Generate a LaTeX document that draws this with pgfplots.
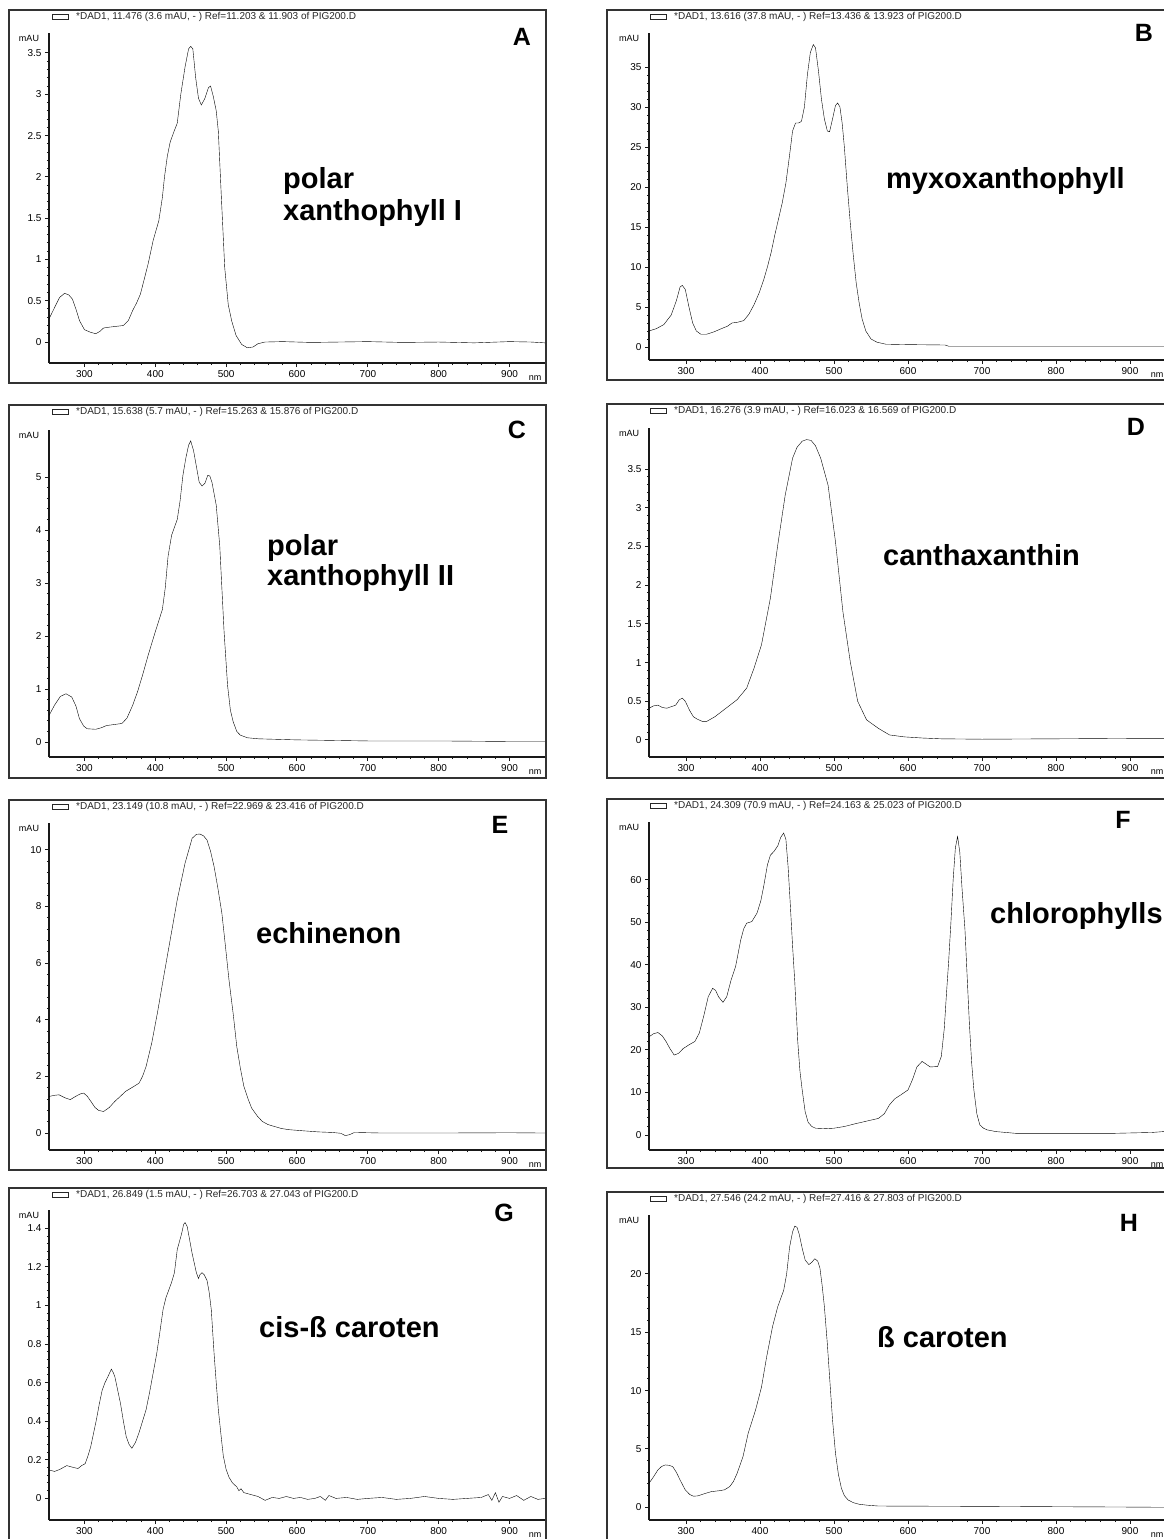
\documentclass[border=0pt]{standalone}
\usepackage{pgfplots}
\pgfplotsset{compat=1.18}
\usepackage{pgfplotstable}
\usepackage{fontspec}
\setmainfont{Liberation Sans}

% spectra (nm, mAU)
\pgfplotstableread{
nm mau
250 0.28
258 0.42
265 0.54
272 0.59
278 0.57
283 0.52
288 0.40
293 0.26
300 0.15
308 0.12
316 0.10
322 0.13
327 0.17
335 0.18
345 0.19
355 0.20
362 0.26
368 0.38
374 0.48
379 0.58
385 0.78
390 0.95
397 1.23
405 1.47
410 1.75
413 2.0
417 2.25
421 2.42
426 2.54
431 2.65
436 3.0
442 3.33
447 3.55
450 3.58
453 3.55
457 3.2
461 2.95
465 2.87
470 2.95
475 3.08
478 3.10
482 2.97
486 2.8
489 2.55
493 1.8
498 0.9
503 0.45
508 0.25
514 0.08
522 -0.03
530 -0.07
538 -0.06
545 -0.02
555 0.0
580 0.005
620 -0.005
660 0.0
700 0.005
750 -0.005
800 0.0
850 -0.01
900 0.005
930 0.0
950 -0.01
}\dataA

\pgfplotstableread{
nm mau
250 2.0
260 2.3
270 2.8
280 4.0
287 5.8
292 7.5
295 7.7
299 7.2
304 5.0
309 3.0
314 2.0
320 1.6
328 1.6
338 1.9
348 2.3
356 2.6
362 3.0
370 3.1
378 3.3
385 4.1
392 5.3
399 6.8
405 8.4
410 10.0
415 11.8
420 14.0
425 16.0
430 18.0
435 20.5
440 24.0
444 27.0
448 28.0
452 28.0
456 28.2
460 30.0
464 34.0
468 36.8
472 37.8
475 37.4
479 34.5
483 31.0
487 28.5
491 27.0
494 26.9
498 28.5
502 30.2
505 30.5
508 30.0
511 28.0
514 25.0
518 20.0
522 15.5
526 11.5
530 8.0
534 5.5
538 3.5
543 2.0
550 1.0
558 0.6
570 0.35
600 0.3
650 0.25
655 0.1
700 0.1
800 0.1
950 0.1
}\dataB

\pgfplotstableread{
nm mau
250 0.5
258 0.7
266 0.86
274 0.91
282 0.85
288 0.68
293 0.44
299 0.30
304 0.25
316 0.24
324 0.27
331 0.31
342 0.33
353 0.35
360 0.45
368 0.69
375 0.95
382 1.26
390 1.64
400 2.08
410 2.5
414 2.9
418 3.5
423 3.9
427 4.05
431 4.2
435 4.55
439 5.03
443 5.35
447 5.6
450 5.68
454 5.5
458 5.2
462 4.9
466 4.83
470 4.88
474 5.03
477 5.02
480 4.9
486 4.47
491 3.7
497 2.1
502 1.07
506 0.6
510 0.38
515 0.2
520 0.13
530 0.08
546 0.06
600 0.04
700 0.02
800 0.02
900 0.01
950 0.01
}\dataC

\pgfplotstableread{
nm mau
250 0.41
256 0.44
262 0.45
268 0.42
274 0.41
280 0.43
286 0.45
291 0.52
295 0.54
299 0.5
305 0.38
310 0.3
315 0.27
322 0.24
328 0.24
339 0.3
354 0.41
369 0.52
382 0.67
392 0.93
402 1.23
414 1.83
424 2.52
434 3.16
444 3.64
450 3.78
457 3.86
463 3.88
469 3.87
475 3.80
482 3.64
492 3.29
502 2.56
512 1.66
522 1.01
532 0.5
544 0.26
560 0.15
575 0.065
595 0.04
620 0.025
645 0.015
700 0.01
800 0.015
900 0.02
950 0.02
}\dataD

\pgfplotstableread{
nm mau
250 1.29
257 1.33
264 1.35
272 1.25
280 1.18
288 1.3
294 1.38
299 1.41
304 1.3
309 1.12
315 0.9
320 0.8
327 0.76
335 0.9
343 1.12
350 1.28
358 1.47
368 1.62
377 1.76
382 2.0
387 2.35
395 3.18
403 4.24
411 5.4
421 6.82
431 8.24
442 9.53
452 10.41
458 10.55
463 10.56
468 10.5
473 10.35
478 9.95
483 9.41
488 8.7
494 7.76
499 6.6
504 5.41
510 4.2
515 3.06
520 2.3
525 1.65
531 1.2
536 0.88
544 0.6
551 0.41
559 0.3
567 0.24
578 0.16
588 0.12
608 0.08
630 0.04
650 0.02
662 -0.01
668 -0.09
674 -0.06
681 0.02
720 0.0
800 0.0
900 0.01
950 0.0
}\dataE

\pgfplotstableread{
nm mau
250 23.1
256 23.8
262 24.1
268 23.3
273 22
278 20.4
284 18.8
290 19.2
296 20.3
304 21.2
312 22
318 24
324 28
330 32.5
336 34.5
340 34
344 32.5
350 31.2
355 32.5
361 36.5
367 39.6
374 45.9
378 48.5
382 49.8
389 50.2
396 52.2
401 55
405 58.5
410 63.5
414 65.8
419 66.7
424 68
428 70
432 71.0
435 69.5
438 63
441 54
444 44.5
447 36
451 22
454 15
457 10.6
461 5.5
465 3.0
470 2.0
475 1.6
489 1.5
500 1.6
514 2.0
530 2.7
545 3.3
560 3.9
568 5
575 7.1
582 8.5
590 9.4
600 10.6
606 13
612 16
619 17.3
625 16.6
630 16.0
640 16.1
645 18.5
649 25
652 33.3
655 41
658 50
661 60
664 67.5
667 70.2
670 66.5
673 58
677 48.2
680 37
683 26
686 17
689 10.6
693 5
697 2.4
702 1.6
707 1.2
719 0.8
745 0.4
800 0.4
880 0.4
930 0.6
945 0.8
950 0.8
}\dataF

\pgfplotstableread{
nm mau
250 0.147
258 0.14
265 0.15
270 0.16
275 0.17
280 0.165
285 0.16
291 0.155
296 0.17
301 0.18
305 0.22
309 0.27
313 0.34
317 0.41
321 0.49
325 0.56
329 0.6
333 0.63
338 0.67
341 0.65
343 0.63
347 0.56
351 0.49
355 0.4
359 0.32
363 0.28
367 0.26
372 0.29
377 0.34
382 0.4
387 0.46
392 0.55
398 0.67
402 0.75
406 0.85
411 0.98
415 1.04
419 1.08
423 1.12
427 1.17
431 1.29
434 1.33
437 1.37
440 1.42
442 1.43
445 1.41
448 1.35
452 1.27
455 1.22
458 1.17
461 1.14
463 1.16
466 1.17
469 1.16
473 1.13
476 1.07
479 0.98
483 0.75
486 0.6
489 0.46
493 0.32
496 0.22
500 0.15
504 0.11
509 0.08
515 0.06
518 0.04
521 0.05
525 0.03
535 0.02
545 0.01
555 -0.01
565 0.005
575 0.0
585 0.01
595 0.0
605 0.005
615 -0.005
625 0.0
633 0.01
640 -0.01
645 0.015
655 0.0
670 0.005
685 -0.005
700 0.0
720 0.005
740 -0.005
760 0.0
780 0.01
800 0.0
820 -0.005
840 0.0
860 0.005
870 0.02
875 -0.01
880 0.03
885 -0.02
890 0.01
900 0.0
910 0.015
920 -0.01
930 0.01
940 -0.005
950 0.0
}\dataG

\pgfplotstableread{
nm mau
250 2.06
256 2.6
262 3.2
267 3.5
272 3.63
277 3.6
282 3.49
287 3.0
292 2.34
299 1.49
305 1.1
310 0.95
316 0.98
324 1.15
334 1.34
346 1.43
352 1.5
359 1.77
364 2.2
369 2.9
377 4.34
384 6.34
394 8.34
402 10.3
409 12.9
417 15.5
424 17.2
432 18.6
436 20
440 22.3
444 23.6
447 24.1
450 24.0
453 23.4
457 22.2
461 21.2
466 20.8
470 21.0
474 21.3
478 21.1
481 20.5
484 19
487 17.2
491 14
494 11.2
498 7.5
502 4.63
506 2.8
510 1.63
514 1.0
519 0.63
526 0.4
534 0.26
545 0.18
560 0.11
600 0.1
700 0.08
800 0.05
900 0.02
950 0.0
}\dataH

\pgfplotsset{
  dad/.style={
    scale only axis,
    anchor=south west,
    xmin=250, xmax=950,
    axis x line*=bottom, axis y line*=left,
    axis line style={-, line width=1.1pt, black!90},
    xtick={300,400,500,600,700,800,900},
    minor x tick num=4,
    minor y tick num=4,
    tick align=outside,
    major tick length=4pt,
    minor tick length=2pt,
    every tick/.style={black!90, line width=1pt},
    /pgf/number format/assume math mode=true,
    tick label style={font=\fontsize{10}{12}\selectfont, text=black},
    no markers,
    cycle list={{black, line width=1.6pt, line join=round}},
    after end axis/.code={
      \node[font=\fontsize{9}{10}\selectfont] at (rel axis cs:0,1) [xshift=-20pt, yshift=-5pt] {mAU};
      \node[font=\fontsize{9}{10}\selectfont, anchor=base east] at (rel axis cs:1,0) [yshift=-17.5pt] {nm};
    },
  },
}
\tikzset{
  lbl/.style={font=\bfseries\fontsize{29}{34}\selectfont, anchor=base west, inner sep=0pt},
  big/.style={font=\bfseries\fontsize{25}{30}\selectfont, inner sep=0pt},
}

\newcommand\hdr[3]{%
  \draw[line width=0.9pt, black!85] (#1+43,#2+4.5) rectangle (#1+59,#2+9.5);
  \node[anchor=west, inner sep=0pt, font=\fontsize{10}{11}\selectfont, text=black!85] at (#1+67,#2+7) {#3};
}

\begin{document}
\begin{tikzpicture}
\useasboundingbox (0pt,0pt) rectangle (1163pt,-1539pt);

% A
\begin{axis}[dad, at={(49pt,-363pt)}, width=496pt, height=330pt,
  ymin=-0.254, ymax=3.742, ytick={0,0.5,1,1.5,2,2.5,3,3.5}]
\addplot table {\dataA};
\end{axis}
% B
\begin{axis}[dad, at={(649pt,-360pt)}, width=518pt, height=327pt,
  ymin=-1.625, ymax=39.25, ytick={0,5,10,15,20,25,30,35}]
\addplot table {\dataB};
\end{axis}
% C
\begin{axis}[dad, at={(49pt,-757pt)}, width=496pt, height=327pt,
  ymin=-0.283, ymax=5.887, ytick={0,1,2,3,4,5}]
\addplot table {\dataC};
\end{axis}
% D
\begin{axis}[dad, at={(649pt,-757pt)}, width=518pt, height=329pt,
  ymin=-0.22, ymax=4.03, ytick={0,0.5,1,1.5,2,2.5,3,3.5}]
\addplot table {\dataD};
\end{axis}
% E
\begin{axis}[dad, at={(49pt,-1150pt)}, width=496pt, height=327pt,
  ymin=-0.6, ymax=10.95, ytick={0,2,4,6,8,10}]
\addplot table {\dataE};
\end{axis}
% F
\begin{axis}[dad, at={(649pt,-1150pt)}, width=518pt, height=328pt,
  ymin=-3.53, ymax=73.6, ytick={0,10,20,30,40,50,60}]
\addplot table {\dataF};
\end{axis}
% G
\begin{axis}[dad, at={(49pt,-1520pt)}, width=496pt, height=310pt,
  ymin=-0.112, ymax=1.495, ytick={0,0.2,0.4,0.6,0.8,1,1.2,1.4}]
\addplot table {\dataG};
\end{axis}
% H
\begin{axis}[dad, at={(649pt,-1520pt)}, width=518pt, height=305pt,
  ymin=-1.09, ymax=25.05, ytick={0,5,10,15,20}]
\addplot table {\dataH};
\end{axis}

\begin{scope}[x=1pt, y=-1pt]
  \begin{scope}[line width=1.4pt, black!80]
    \draw (9,10) rectangle (546,383);
    \draw (607,10) rectangle (1175,380);
    \draw (9,405) rectangle (546,778);
    \draw (607,404) rectangle (1175,778);
    \draw (9,800) rectangle (546,1170);
    \draw (607,799) rectangle (1175,1168);
    \draw (9,1188) rectangle (546,1550);
    \draw (607,1192) rectangle (1175,1550);
  \end{scope}

  \hdr{9}{10}{*DAD1, 11.476 (3.6 mAU, - ) Ref=11.203 \& 11.903 of PIG200.D}
  \hdr{607}{10}{*DAD1, 13.616 (37.8 mAU, - ) Ref=13.436 \& 13.923 of PIG200.D}
  \hdr{9}{405}{*DAD1, 15.638 (5.7 mAU, - ) Ref=15.263 \& 15.876 of PIG200.D}
  \hdr{607}{404}{*DAD1, 16.276 (3.9 mAU, - ) Ref=16.023 \& 16.569 of PIG200.D}
  \hdr{9}{800}{*DAD1, 23.149 (10.8 mAU, - ) Ref=22.969 \& 23.416 of PIG200.D}
  \hdr{607}{799}{*DAD1, 24.309 (70.9 mAU, - ) Ref=24.163 \& 25.023 of PIG200.D}
  \hdr{9}{1188}{*DAD1, 26.849 (1.5 mAU, - ) Ref=26.703 \& 27.043 of PIG200.D}
  \hdr{607}{1192}{*DAD1, 27.546 (24.2 mAU, - ) Ref=27.416 \& 27.803 of PIG200.D}

  \node[big] at (522,37) {A};
  \node[big] at (1144,33) {B};
  \node[big] at (517,430) {C};
  \node[big] at (1136,427) {D};
  \node[big] at (500,825) {E};
  \node[big] at (1123,820) {F};
  \node[big] at (504,1213) {G};
  \node[big] at (1129,1223) {H};

  \node[lbl] at (283,188) {polar};
  \node[lbl] at (283,220) {xanthophyll I};
  \node[lbl] at (886,188) {myxoxanthophyll};
  \node[lbl] at (267,555) {polar};
  \node[lbl] at (267,585) {xanthophyll II};
  \node[lbl] at (883,565) {canthaxanthin};
  \node[lbl] at (256,943) {echinenon};
  \node[lbl] at (990,923) {chlorophylls};
  \node[lbl] at (259,1337) {cis-ß caroten};
  \node[lbl] at (877,1347) {ß caroten};
\end{scope}
\end{tikzpicture}
\end{document}
